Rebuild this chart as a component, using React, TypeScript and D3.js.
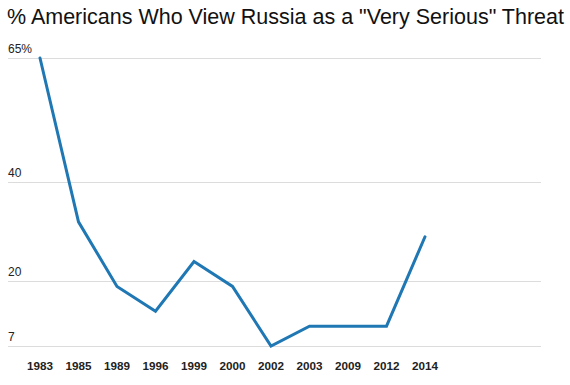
import React, { useEffect, useRef } from 'react';
import * as d3 from 'd3';

// データ
const years = ['1983', '1985', '1989', '1996', '1999', '2000', '2002', '2003', '2009', '2012', '2014'];
const threatPct = [65, 32, 19, 14, 24, 19, 7, 11, 11, 11, 29];
const yTicks = [65, 40, 20, 7];

const W = 570;
const H = 385;

const App = () => {
  const svgRef = useRef<SVGSVGElement | null>(null);

  useEffect(() => {
    const svg = d3.select(svgRef.current);
    svg.selectAll('*').remove();

    const gridLeft = 8;
    const gridRight = 541;

    const x = d3.scalePoint<string>().domain(years).range([40, 425]);
    const y = d3.scaleLinear().domain([7, 65]).range([346, 58]);

    // タイトル
    svg.append('text')
      .attr('x', 7)
      .attr('y', 24)
      .style('font-family', '"Liberation Sans", Arial, sans-serif')
      .style('font-size', '21.5px')
      .style('fill', '#111')
      .text('% Americans Who View Russia as a "Very Serious" Threat');

    // グリッド線とY軸ラベル
    const grid = svg.append('g');
    yTicks.forEach((t, i) => {
      grid.append('line')
        .attr('x1', gridLeft)
        .attr('x2', gridRight)
        .attr('y1', Math.round(y(t)) + 0.5)
        .attr('y2', Math.round(y(t)) + 0.5)
        .style('stroke', '#dcdcdc')
        .style('stroke-width', 1);
      grid.append('text')
        .attr('x', gridLeft)
        .attr('y', y(t) - 5)
        .style('font-family', '"Liberation Sans", Arial, sans-serif')
        .style('font-size', '12px')
        .style('fill', '#222')
        .text(i === 0 ? `${t}%` : `${t}`);
    });

    // X軸ラベル
    svg.append('g')
      .selectAll('text')
      .data(years)
      .enter()
      .append('text')
      .attr('x', d => x(d) as number)
      .attr('y', 370)
      .attr('text-anchor', 'middle')
      .style('font-family', '"Liberation Sans", Arial, sans-serif')
      .style('font-size', '11.7px')
      .style('font-weight', 'bold')
      .style('fill', '#222')
      .text(d => d);

    // 折れ線
    const line = d3.line<number>()
      .x((d, i) => x(years[i]) as number)
      .y(d => y(d));

    svg.append('path')
      .datum(threatPct)
      .attr('d', line)
      .style('fill', 'none')
      .style('stroke', '#1f77b4')
      .style('stroke-width', 3)
      .style('stroke-linejoin', 'miter')
      .style('stroke-linecap', 'round');
  }, []);

  return (
    <svg
      ref={svgRef}
      width={W}
      height={H}
      style={{ position: 'absolute', left: 0, top: 0, background: '#fff' }}
    />
  );
};

export default App;
